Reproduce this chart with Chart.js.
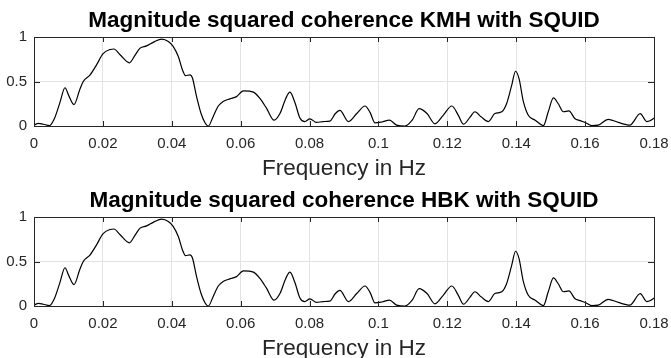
<!DOCTYPE html>
<html>
<head>
<meta charset="utf-8">
<script src="https://cdn.jsdelivr.net/npm/chart.js@4/dist/chart.umd.min.js"></script>
<style>
  html, body { margin: 0; padding: 0; background: #fff; overflow: hidden; }
  body { width: 671px; height: 358px; position: relative; }
  .panel { position: absolute; left: 0; width: 671px; height: 180px; }
</style>
</head>
<body>
<div class="panel" style="top:0"><canvas id="kmh"></canvas></div>
<div class="panel" style="top:180px"><canvas id="hbk"></canvas></div>
<script>
// frequency (Hz) and magnitude squared coherence
const freq = [0, 0.0013, 0.0027, 0.0045, 0.006, 0.0075, 0.009, 0.010, 0.0116, 0.0133,
  0.0143, 0.0163, 0.0182, 0.020, 0.0221, 0.0232, 0.025, 0.0277, 0.0294, 0.0308,
  0.0327, 0.0346, 0.0371, 0.039, 0.0404, 0.0419, 0.0431, 0.044, 0.0453, 0.046,
  0.0472, 0.0485, 0.0496, 0.0506, 0.052, 0.0535, 0.0549, 0.0569, 0.0588, 0.0608,
  0.0637, 0.0656, 0.0675, 0.0697, 0.0714, 0.0731, 0.0743, 0.0757, 0.0772, 0.0786,
  0.0801, 0.082, 0.084, 0.0859, 0.0875, 0.0888, 0.0913, 0.0937, 0.0961, 0.0976,
  0.099, 0.101, 0.1032, 0.1053, 0.1077, 0.1098, 0.1118, 0.1141, 0.1164, 0.1188,
  0.1213, 0.1232, 0.1247, 0.1266, 0.128, 0.1299, 0.1319, 0.1338, 0.1358, 0.1372,
  0.1387, 0.1398, 0.1408, 0.1421, 0.1435, 0.1455, 0.1479, 0.1493, 0.1508, 0.1522,
  0.1537, 0.1553, 0.157, 0.1585, 0.160, 0.1619, 0.1638, 0.1667, 0.1696, 0.173,
  0.176, 0.1779, 0.1797, 0.18];
const cohKMH = [0.01, 0.03, 0.02, 0.005, 0.09, 0.26, 0.43, 0.35, 0.24, 0.41,
  0.50, 0.575, 0.69, 0.81, 0.86, 0.865, 0.80, 0.71, 0.80, 0.875,
  0.90, 0.94, 0.977, 0.95, 0.895, 0.78, 0.63, 0.565, 0.575, 0.54,
  0.33, 0.14, 0.04, 0.0, 0.105, 0.225, 0.275, 0.305, 0.33, 0.395,
  0.38, 0.31, 0.20, 0.065, 0.14, 0.31, 0.38, 0.27, 0.09, 0.05,
  0.08, 0.04, 0.05, 0.055, 0.14, 0.175, 0.05, 0.14, 0.225, 0.15,
  0.035, 0.045, 0.065, 0.01, 0.0, 0.065, 0.195, 0.14, 0.025, 0.12,
  0.225, 0.12, 0.02, 0.10, 0.16, 0.10, 0.05, 0.14, 0.16, 0.25,
  0.46, 0.615, 0.535, 0.27, 0.12, 0.065, 0.005, 0.16, 0.315, 0.25,
  0.16, 0.17, 0.085, 0.06, 0.04, 0.005, 0.01, 0.075, 0.04, 0.01,
  0.14, 0.05, 0.08, 0.09];
// the second panel shows the same curve
const cohHBK = cohKMH.slice();

const xTicks = [0, 0.02, 0.04, 0.06, 0.08, 0.1, 0.12, 0.14, 0.16, 0.18];
const yTicks = [0, 0.5, 1];

const axisColor = '#262626';
const font = "'Liberation Sans', Arial, Helvetica, sans-serif";

// MATLAB style box with inward ticks on all four sides
const boxPlugin = {
  id: 'box',
  afterDraw(chart) {
    const { ctx, chartArea: a, scales } = chart;
    ctx.save();
    ctx.strokeStyle = axisColor;
    ctx.lineWidth = 1;
    ctx.beginPath();
    xTicks.forEach(v => {
      const x = Math.round(scales.x.getPixelForValue(v)) + 0.5;
      ctx.moveTo(x, a.bottom); ctx.lineTo(x, a.bottom - 5);
      ctx.moveTo(x, a.top); ctx.lineTo(x, a.top + 5);
    });
    yTicks.forEach(v => {
      const y = Math.round(scales.y.getPixelForValue(v)) + 0.5;
      ctx.moveTo(a.left, y); ctx.lineTo(a.left + 6, y);
      ctx.moveTo(a.right, y); ctx.lineTo(a.right - 6, y);
    });
    ctx.stroke();
    ctx.strokeRect(Math.round(a.left) + 0.5, Math.round(a.top) + 0.5,
      Math.round(a.right - a.left), Math.round(a.bottom - a.top));
    ctx.restore();
  }
};

function makeChart(id, title, values) {
  const ctx = document.getElementById(id).getContext('2d');
  return new Chart(ctx, {
    type: 'line',
    data: {
      datasets: [{
        data: freq.map((f, i) => ({ x: f, y: values[i] })),
        borderColor: '#000',
        borderWidth: 1.2,
        pointRadius: 0,
        fill: false,
        cubicInterpolationMode: 'monotone'
      }]
    },
    options: {
      responsive: true,
      maintainAspectRatio: false,
      animation: false,
      layout: { padding: { left: 0, right: 17, top: 0, bottom: 0 } },
      plugins: {
        legend: { display: false },
        tooltip: { enabled: false },
        title: {
          display: true,
          text: title,
          fullSize: false,
          color: '#000',
          font: { family: font, size: 22.5, weight: 'bold', lineHeight: 1 },
          padding: { top: 10, bottom: 4.5 }
        }
      },
      scales: {
        x: {
          type: 'linear',
          min: 0,
          max: 0.18,
          afterBuildTicks: s => { s.ticks = xTicks.map(v => ({ value: v })); },
          afterFit: s => { s.height = 54; s.paddingLeft = 0; s.paddingRight = 0; },
          grid: { color: '#e3e3e3', drawTicks: false },
          border: { display: false },
          ticks: {
            color: axisColor,
            padding: 9,
            maxRotation: 0,
            font: { family: font, size: 15 },
            callback: v => String(+v.toFixed(2))
          },
          title: {
            display: true,
            text: 'Frequency in Hz',
            color: axisColor,
            font: { family: font, size: 22.5, lineHeight: 1 },
            padding: { top: 0, bottom: 0 }
          }
        },
        y: {
          min: 0,
          max: 1,
          afterBuildTicks: s => { s.ticks = yTicks.map(v => ({ value: v })); },
          afterFit: s => { s.width = 34; },
          grid: { color: '#e3e3e3', drawTicks: false },
          border: { display: false },
          ticks: {
            color: axisColor,
            padding: 7,
            font: { family: font, size: 15 },
            callback: v => String(v)
          }
        }
      }
    },
    plugins: [boxPlugin]
  });
}

makeChart('kmh', 'Magnitude squared coherence KMH with SQUID', cohKMH);
makeChart('hbk', 'Magnitude squared coherence HBK with SQUID', cohHBK);
</script>
</body>
</html>
